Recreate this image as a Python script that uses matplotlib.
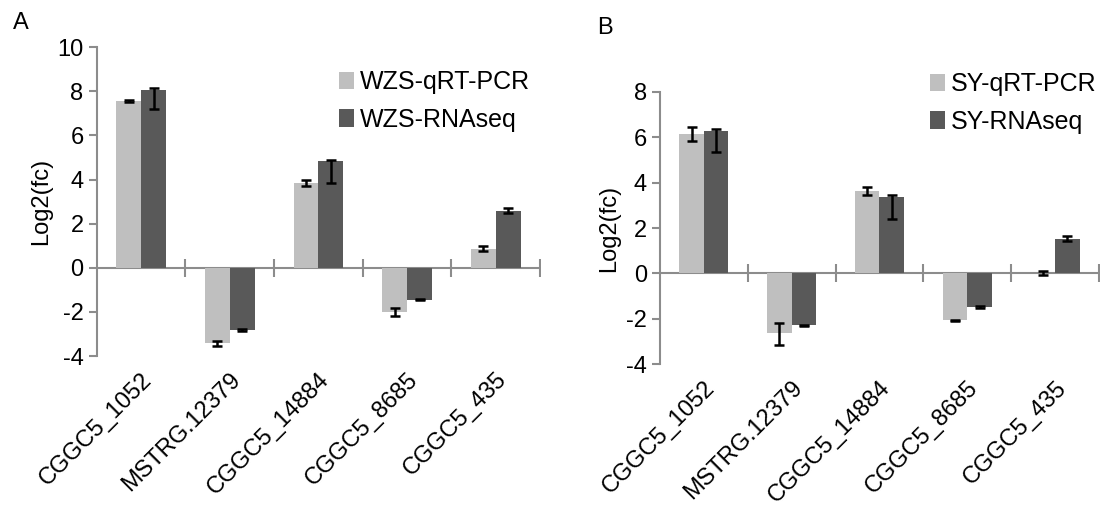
import numpy as np
import matplotlib.pyplot as plt

plt.rcParams['font.family'] = ['Liberation Sans', 'DejaVu Sans']
plt.rcParams['axes.unicode_minus'] = False

genes = ['CGGC5_1052', 'MSTRG.12379', 'CGGC5_14884', 'CGGC5_8685', 'CGGC5_435']

# panel A (WZS)
wzs_qpcr = [7.57, -3.42, 3.84, -1.99, 0.87]
wzs_qpcr_lo = [0.05, 0.10, 0.12, 0.18, 0.12]
wzs_qpcr_hi = [0.05, 0.10, 0.12, 0.18, 0.12]
wzs_rna = [8.08, -2.82, 4.83, -1.44, 2.60]
wzs_rna_lo = [0.90, 0.03, 1.00, 0.03, 0.12]
wzs_rna_hi = [0.07, 0.03, 0.06, 0.03, 0.12]

# panel B (SY)
sy_qpcr = [6.14, -2.64, 3.63, -2.06, 0.02]
sy_qpcr_lo = [0.30, 0.50, 0.17, 0.03, 0.08]
sy_qpcr_hi = [0.30, 0.44, 0.17, 0.03, 0.08]
sy_rna = [6.28, -2.28, 3.38, -1.48, 1.54]
sy_rna_lo = [0.94, 0.03, 0.97, 0.03, 0.12]
sy_rna_hi = [0.08, 0.03, 0.10, 0.03, 0.12]

LIGHT = '#bfbfbf'
DARK = '#595959'
AXC = '#8c8c8c'


def draw_panel(fig, ax, q, qlo, qhi, r, rlo, rhi, names, ylim, yticks, leg_anchor):
    x = np.arange(len(genes))
    w = 0.28
    ebk = dict(ecolor='black', elinewidth=1.8, capsize=3.5, capthick=1.8)
    ax.bar(x - w / 2, q, w, color=LIGHT, label=names[0],
           yerr=[qlo, qhi], error_kw=ebk, zorder=2)
    ax.bar(x + w / 2, r, w, color=DARK, label=names[1],
           yerr=[rlo, rhi], error_kw=ebk, zorder=2)
    ax.set_xlim(-0.5, len(genes) - 0.5)
    ax.set_ylim(*ylim)
    ax.set_yticks(yticks)
    ax.axhline(0, color=AXC, lw=1.5, zorder=1)
    # cross tick marks on the zero line between categories
    ax.plot(x + 0.5, np.zeros(len(x)), ls='none', marker='|', ms=13,
            mew=1.5, color=AXC, zorder=1)
    for s in ['top', 'right', 'bottom']:
        ax.spines[s].set_visible(False)
    ax.spines['left'].set_color(AXC)
    ax.spines['left'].set_linewidth(1.5)
    ax.tick_params(axis='y', colors=AXC, length=6, width=1.5,
                   labelcolor='black', labelsize=17)
    ax.tick_params(axis='x', length=0, pad=9)
    ax.set_xticks(x)
    ax.set_xticklabels(genes, rotation=45, ha='right', va='top',
                       rotation_mode='anchor', fontsize=17)
    ax.set_ylabel('Log2(fc)', fontsize=17)
    ax.legend(loc='upper right', bbox_to_anchor=leg_anchor,
              bbox_transform=fig.transFigure, frameon=False,
              fontsize=18, handlelength=0.6, handleheight=0.7,
              handletextpad=0.25, labelspacing=0.55, borderaxespad=0,
              borderpad=0)


fig = plt.figure(figsize=(11, 5.08), dpi=100)
axA = fig.add_axes([0.088, 0.299, 0.403, 0.608])
axB = fig.add_axes([0.6, 0.283, 0.399, 0.536])

draw_panel(fig, axA, wzs_qpcr, wzs_qpcr_lo, wzs_qpcr_hi,
           wzs_rna, wzs_rna_lo, wzs_rna_hi,
           ['WZS-qRT-PCR', 'WZS-RNAseq'], (-4, 10), np.arange(-4, 11, 2),
           (0.482, 0.862))
draw_panel(fig, axB, sy_qpcr, sy_qpcr_lo, sy_qpcr_hi,
           sy_rna, sy_rna_lo, sy_rna_hi,
           ['SY-qRT-PCR', 'SY-RNAseq'], (-4, 8), np.arange(-4, 9, 2),
           (0.997, 0.858))

fig.text(0.012, 0.955, 'A', fontsize=17, va='center')
fig.text(0.543, 0.945, 'B', fontsize=17, va='center')

fig.savefig('out.png', dpi=100)
